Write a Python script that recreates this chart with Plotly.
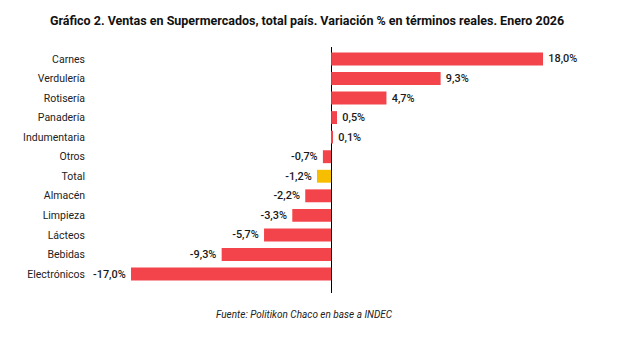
import plotly.graph_objects as go

categories = ["Carnes", "Verdulería", "Rotisería", "Panadería", "Indumentaria", "Otros",
              "Total", "Almacén", "Limpieza", "Lácteos", "Bebidas", "Electrónicos"]
values = [18.0, 9.3, 4.7, 0.5, 0.1, -0.7, -1.2, -2.2, -3.3, -5.7, -9.3, -17.0]
highlight = "Total"

RED = "#F2444A"
YELLOW = "#F7BE00"
colors = [YELLOW if c == highlight else RED for c in categories]
templates = ["\u2009%{x:.1f}%" if v >= 0 else "%{x:.1f}%\u2009" for v in values]

fig = go.Figure(go.Bar(
    x=values, y=categories, orientation="h",
    marker=dict(color=colors, line=dict(width=0)),
    texttemplate=templates, textposition="outside",
    textfont=dict(family="Roboto", size=11, color="#1a1a1a", weight=500),
    cliponaxis=False, width=0.66,
))

fig.update_layout(
    width=624, height=341,
    margin=dict(l=95, r=24, t=47, b=48),
    paper_bgcolor="white", plot_bgcolor="white",
    separators=",.",
    showlegend=False,
    title=dict(text="<b>Gráfico 2. Ventas en Supermercados, total país. Variación % en términos reales. Enero 2026</b>",
               x=0.492, xanchor="center", y=0.94, yanchor="middle",
               font=dict(family="Roboto", size=12.5, color="#111")),
    xaxis=dict(range=[-20.06, 22.84], showgrid=False, showticklabels=False, ticks="",
               zeroline=True, zerolinecolor="#000", zerolinewidth=1, showline=False, fixedrange=True),
    yaxis=dict(range=[11.97, -0.61], showgrid=False, ticks="", showline=False,
               tickfont=dict(family="Roboto", size=10.5, color="#222"), ticklabelstandoff=9),
    annotations=[dict(text="<i>Fuente: Politikon Chaco en base a INDEC</i>", xref="paper", yref="paper",
                      x=0.414, y=-0.087, xanchor="center", yanchor="middle", showarrow=False,
                      font=dict(family="Roboto", size=10, color="#222"))],
)

fig.write_html("out.html")
